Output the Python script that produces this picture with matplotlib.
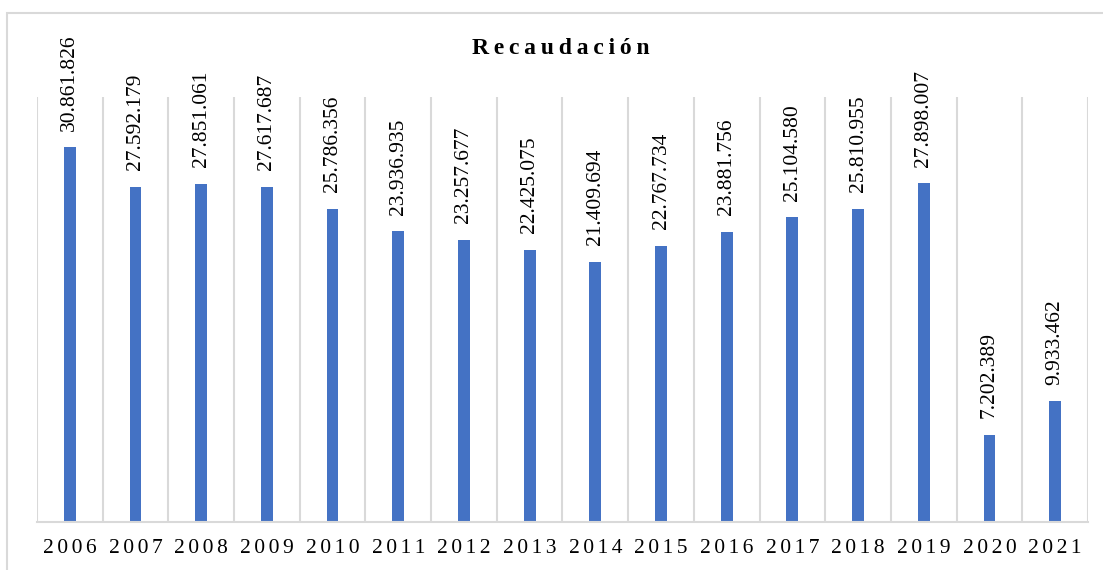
import numpy as np
import matplotlib
matplotlib.use('Agg')
import matplotlib.pyplot as plt
from matplotlib.patches import Rectangle

# data
years = ['2006', '2007', '2008', '2009', '2010', '2011', '2012', '2013',
         '2014', '2015', '2016', '2017', '2018', '2019', '2020', '2021']
recaudacion = [30861826, 27592179, 27851061, 27617687, 25786356, 23936935,
               23257677, 22425075, 21409694, 22767734, 23881756, 25104580,
               25810955, 27898007, 7202389, 9933462]
labels = ['30.861.826', '27.592.179', '27.851.061', '27.617.687', '25.786.356',
          '23.936.935', '23.257.677', '22.425.075', '21.409.694', '22.767.734',
          '23.881.756', '25.104.580', '25.810.955', '27.898.007', '7.202.389',
          '9.933.462']

plt.rcParams['font.family'] = ['Liberation Serif', 'DejaVu Serif']

fig = plt.figure(figsize=(11.03, 5.70), dpi=100)
ax = fig.add_axes([0.0335, 0.0842, 0.9529, 0.7456])

# outer chart border (clipped on the right and bottom, like the reference)
fig.patches.append(Rectangle((7/1103, -0.1), 1.2, 0.1 + 1 - 13/570,
                             transform=fig.transFigure, fill=False,
                             edgecolor='#d9d9d9', lw=1.5))

x = np.arange(len(years))
ymax = 35000000

# vertical separators between categories
for b in np.arange(-0.5, len(years), 1.0):
    ax.plot([b, b], [0, ymax], color='#d9d9d9', lw=1.5, zorder=0)

ax.bar(x, recaudacion, width=0.18, color='#4472C4', zorder=2)

for xi, v, lab in zip(x, recaudacion, labels):
    ax.annotate(lab, (xi, v), xytext=(0, 12), textcoords='offset points',
                rotation=90, ha='center', va='bottom', fontsize=15.5)

ax.set_xlim(-0.5, len(years) - 0.5)
ax.set_ylim(0, ymax)
ax.set_yticks([])
ax.set_xticks(x)
ax.set_xticklabels(['\u200a\u200a'.join(y) for y in years], fontsize=15.5)
ax.tick_params(axis='x', length=0, pad=12)
for s in ['top', 'left', 'right']:
    ax.spines[s].set_visible(False)
ax.spines['bottom'].set_color('#d9d9d9')
ax.spines['bottom'].set_linewidth(1.5)

fig.text(0.508, 1 - 49/570, '\u2009'.join('Recaudación'), ha='center', va='center',
         fontsize=17, fontweight='bold')

fig.savefig('out.png', dpi=100)
